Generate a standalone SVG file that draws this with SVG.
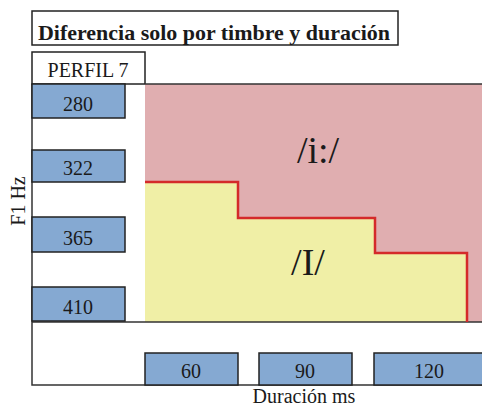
<svg xmlns="http://www.w3.org/2000/svg" width="482" height="406" viewBox="0 0 482 406">
<style>
text{font-family:"Liberation Serif","Times New Roman",serif;fill:#1a1a1a}
.lbl{font-size:20px;text-anchor:middle}
.box{fill:#85a9d2;stroke:#222;stroke-width:1.5}
.frame{fill:none;stroke:#333;stroke-width:1.5}
.big{font-size:38px;text-anchor:middle}
</style>
<rect width="482" height="406" fill="#fff"/>
<g id="title">
<rect x="32" y="11" width="366" height="34" fill="#fff" stroke="#222" stroke-width="1.5"/>
<text x="38" y="40" font-size="21" font-weight="bold" textLength="352" lengthAdjust="spacingAndGlyphs">Diferencia solo por  timbre y duración</text>
</g>
<g id="perfil">
<rect x="32" y="52" width="113" height="32" fill="#fff" stroke="#222" stroke-width="1.5"/>
<text class="lbl" x="88" y="77">PERFIL 7</text>
</g>
<g id="regions">
<rect x="145" y="84" width="340" height="238" fill="#e0aeb0"/>
<path d="M145 182 H238 V218 H375 V253 H467 V322 H145 Z" fill="#f0efa6"/>
</g>
<g id="connectors">
<path class="frame" d="M32 84 V385 H485 M145 84 H485 M32 322 H485"/>
<path d="M145 182 H238 V218 H375 V253 H467 V322" fill="none" stroke="#d42a2a" stroke-width="2.5"/>
</g>
<g id="ii"><text class="big" x="318" y="163">/i:/</text></g>
<g id="I"><text class="big" x="308" y="275">/I/</text></g>
<g id="y280"><rect class="box" x="32" y="84" width="93" height="34"/><text class="lbl" x="78" y="111">280</text></g>
<g id="y322"><rect class="box" x="32" y="150" width="93" height="32"/><text class="lbl" x="78" y="175">322</text></g>
<g id="y365"><rect class="box" x="32" y="217" width="93" height="35"/><text class="lbl" x="78" y="245">365</text></g>
<g id="y410"><rect class="box" x="32" y="287" width="93" height="34"/><text class="lbl" x="78" y="314">410</text></g>
<g id="x60"><rect class="box" x="145" y="353" width="93" height="32"/><text class="lbl" x="191" y="378">60</text></g>
<g id="x90"><rect class="box" x="259" y="353" width="93" height="32"/><text class="lbl" x="305" y="378">90</text></g>
<g id="x120"><rect class="box" x="374" y="353" width="112" height="32"/><text class="lbl" x="429" y="378">120</text></g>
<g id="ylabel"><text class="lbl" font-size="21" transform="translate(25 201) rotate(-90)">F1 Hz</text></g>
<g id="xlabel"><text class="lbl" x="304" y="403">Duración ms</text></g>
</svg>
